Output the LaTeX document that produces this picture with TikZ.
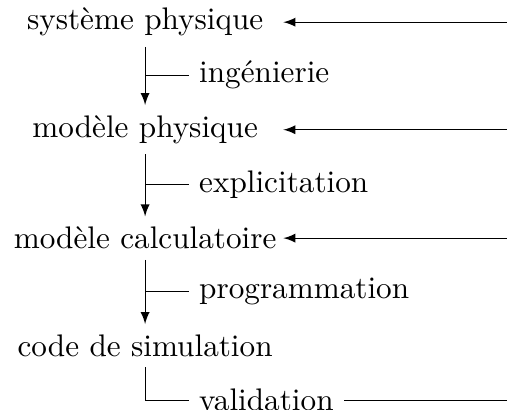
\documentclass[tikz,border=0pt]{standalone}
\tikzset{lbl/.style={anchor=west, inner ysep=1pt}}
\begin{document}
\begin{tikzpicture} [font=\fontsize{10.4}{12}\selectfont]
    \useasboundingbox (0, 0) rectangle (5.94, -4.80);
    \node (v1) at (1.70, -0.26) {système physique};
    \node (v2) at (1.70, -1.52) {modèle physique};
    \node (v3) at (1.70, -2.79) {modèle calculatoire};
    \node (v4) at (1.70, -4.05) {code de simulation};
    \node[lbl] (l1) at (2.21, -0.88) {ingénierie};
    \node[lbl] (l2) at (2.21, -2.16) {explicitation};
    \node[lbl] (l3) at (2.21, -3.42) {programmation};
    \node[lbl] (l4) at (2.21, -4.69) {validation};
    \coordinate (b1) at (1.70, -0.88);
    \coordinate (b2) at (1.70, -2.16);
    \coordinate (b3) at (1.70, -3.42);
    \coordinate (t1) at (3.32, -0.26);
    \coordinate (t2) at (3.32, -1.52);
    \coordinate (t3) at (3.32, -2.79);
    \coordinate (r1) at (5.94, -0.26);
    \coordinate (r2) at (5.94, -1.52);
    \coordinate (r3) at (5.94, -2.79);
    \coordinate (r4) at (5.94, -4.69);
    \draw[-latex] (v1) -- (v2);
    \draw[-latex] (v2) -- (v3);
    \draw[-latex] (v3) -- (v4);
    \draw (b1) -- (l1);
    \draw (b2) -- (l2);
    \draw (b3) -- (l3);
    \draw (v4) |- (l4);
    \draw (l4) -- (r4);
    \draw[-latex] (r1) -- (t1);
    \draw[-latex] (r2) -- (t2);
    \draw[-latex] (r3) -- (t3);
\end{tikzpicture}
\end{document}
